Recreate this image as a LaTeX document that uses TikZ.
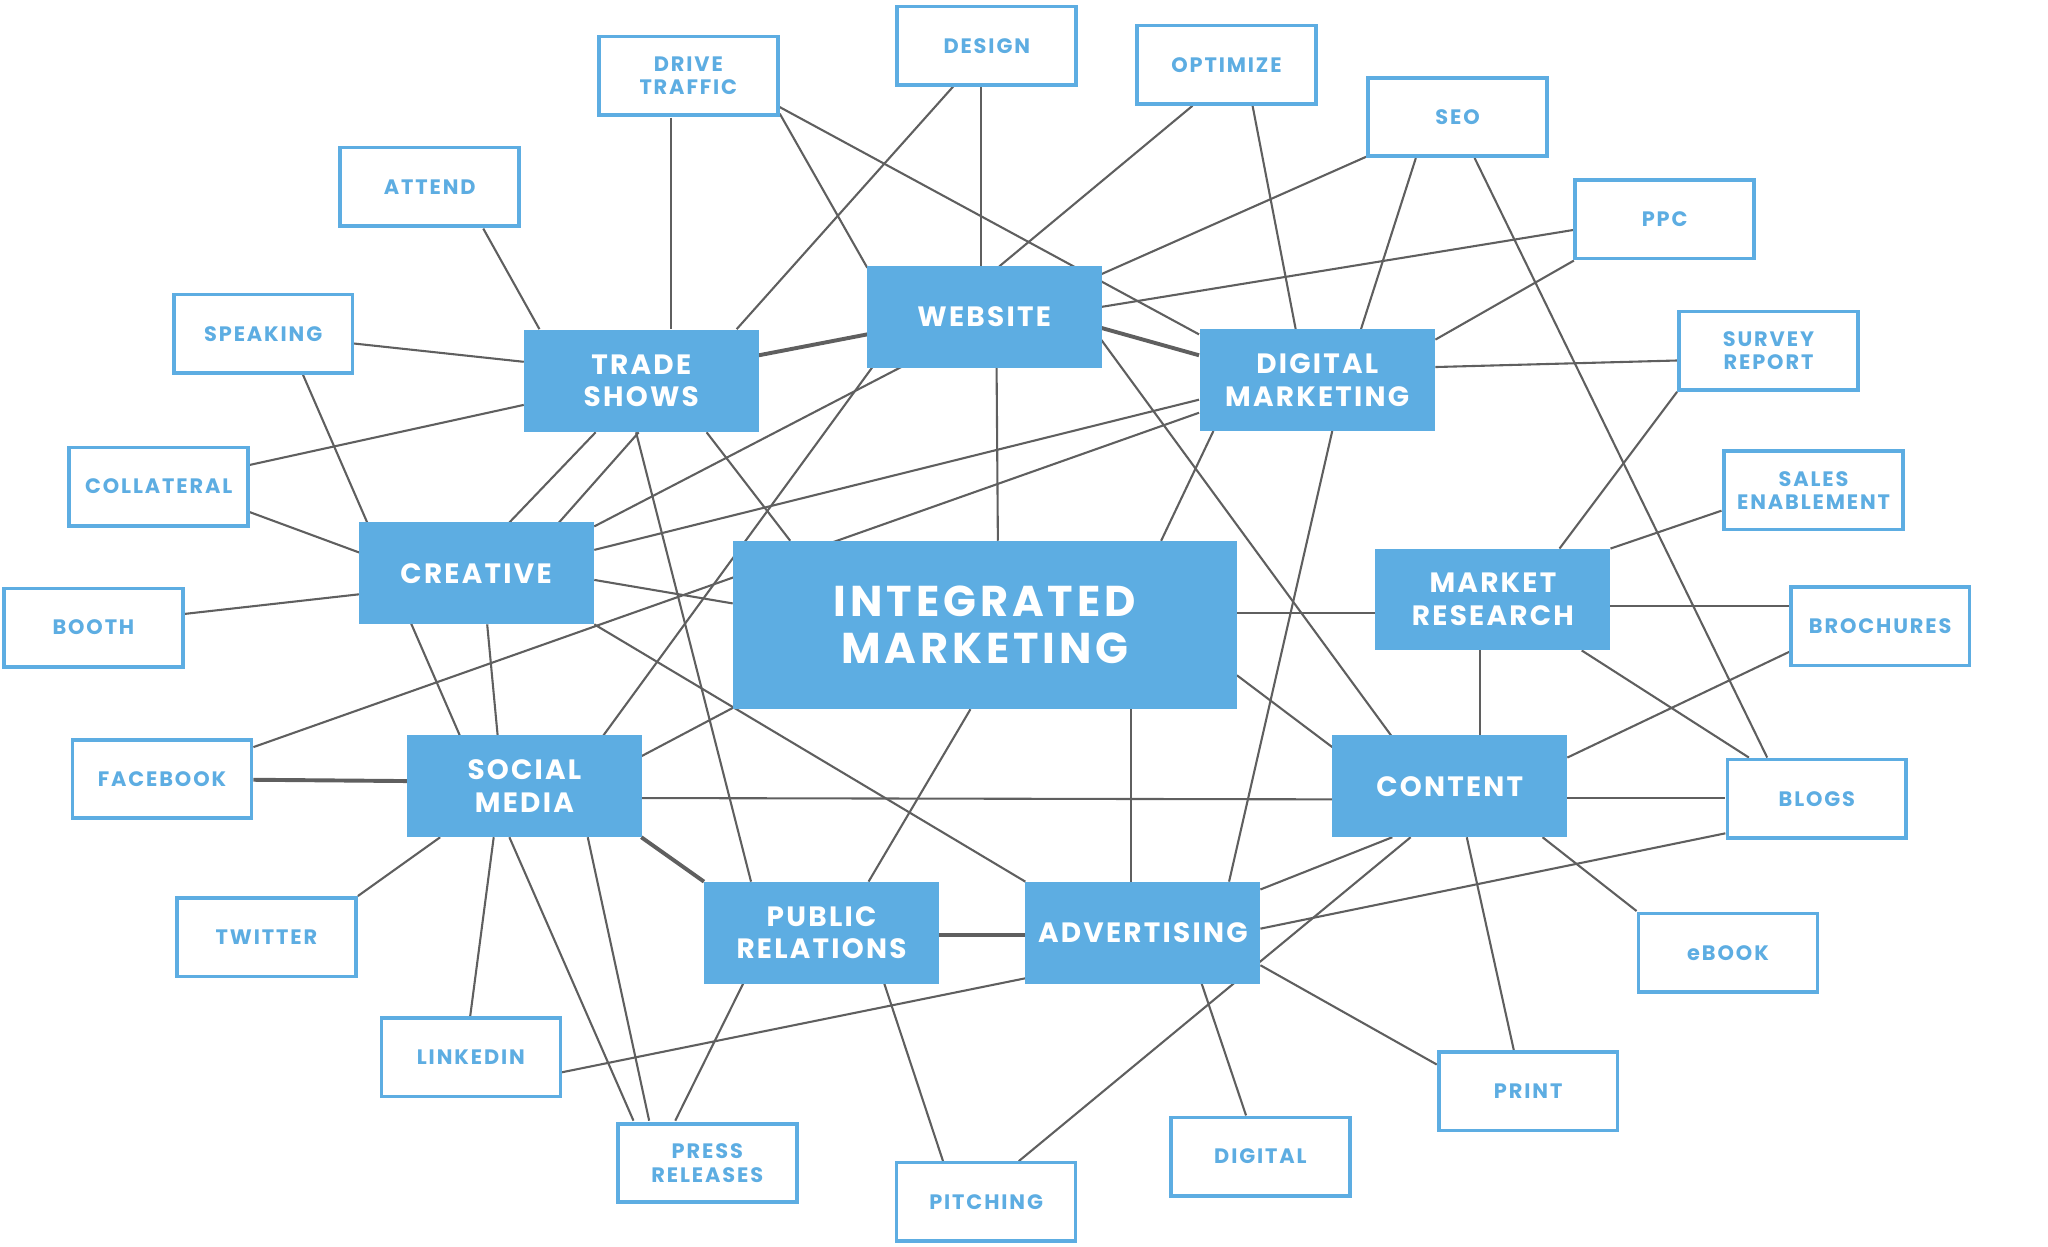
\documentclass[tikz,border=0pt]{standalone}
\usepackage{fontspec}
\usetikzlibrary{backgrounds}
\newfontfamily\popbig[LetterSpace=9]{Poppins}
\newfontfamily\pophub[LetterSpace=8]{Poppins}
\newfontfamily\popleaf[LetterSpace=9]{Poppins}
\definecolor{mainblue}{RGB}{93,173,226}
\definecolor{linegray}{RGB}{95,95,95}
\newcommand\lnk[5][]{\draw[link,#1] ([shift={(#3)}]#2.center) -- ([shift={(#5)}]#4.center);}
\tikzset{
  hub/.style={rectangle, fill=mainblue, text=white, minimum width=90pt, minimum height=39pt, inner sep=0pt, align=center, font={\pophub\bfseries\fontsize{10.7}{12.5}\selectfont}},
  bighub/.style={hub, minimum width=193pt, minimum height=64.5pt, font={\popbig\bfseries\fontsize{16.5}{18}\selectfont}},
  leaf/.style={rectangle, draw=mainblue, line width=1.4pt, fill=white, text=mainblue, minimum width=68.5pt, minimum height=30pt, inner sep=0pt, align=center, font={\popleaf\bfseries\fontsize{8}{9}\selectfont}},
  link/.style={draw=linegray, line width=0.8pt},
  thicklink/.style={line width=1.5pt}
}
\begin{document}
\begin{tikzpicture}[x=0.5pt,y=-0.5pt]
\useasboundingbox (0,0) rectangle (1568,954);
% hubs
\node[hub] (web) at (753.5,242.5) {WEBSITE};
\node[hub] (ts) at (491,291.5) {TRADE\\SHOWS};
\node[hub] (dm) at (1008.5,291) {DIGITAL\\MARKETING};
\node[hub] (cre) at (364.5,439) {CREATIVE};
\node[bighub] (im) at (754,478.5) {INTEGRATED\\MARKETING};
\node[hub] (mr) at (1143,459) {MARKET\\RESEARCH};
\node[hub] (sm) at (401.5,602) {SOCIAL\\MEDIA};
\node[hub] (con) at (1110,602) {CONTENT};
\node[hub] (pr) at (629,714) {PUBLIC\\RELATIONS};
\node[hub] (adv) at (875,714) {ADVERTISING};
% leaves
\node[leaf] (drive) at (527,58) {DRIVE\\TRAFFIC};
\node[leaf] (design) at (755.5,35) {DESIGN};
\node[leaf] (opt) at (939,49.5) {OPTIMIZE};
\node[leaf] (seo) at (1116,89.5) {SEO};
\node[leaf] (ppc) at (1274.5,168) {PPC};
\node[leaf] (survey) at (1354,268.5) {SURVEY\\REPORT};
\node[leaf] (sales) at (1388.5,375.5) {SALES\\ENABLEMENT};
\node[leaf] (broch) at (1439.5,479.5) {BROCHURES};
\node[leaf] (blogs) at (1391,611.5) {BLOGS};
\node[leaf] (ebook) at (1323,729.5) {eBOOK};
\node[leaf] (print) at (1170,835.5) {PRINT};
\node[leaf] (digital) at (965,885.5) {DIGITAL};
\node[leaf] (pitch) at (755,920) {PITCHING};
\node[leaf] (press) at (541.5,890.5) {PRESS\\RELEASES};
\node[leaf] (linked) at (360.5,809.5) {LINKEDIN};
\node[leaf] (twitter) at (204,717.5) {TWITTER};
\node[leaf] (fb) at (124,596.5) {FACEBOOK};
\node[leaf] (booth) at (71.5,480.5) {BOOTH};
\node[leaf] (coll) at (121.5,372.5) {COLLATERAL};
\node[leaf] (speak) at (201.5,255.5) {SPEAKING};
\node[leaf] (attend) at (329,143) {ATTEND};
\begin{scope}[on background layer]
\lnk{drive}{-13,32}{ts}{23,-39.5}
\lnk{drive}{70,24}{dm}{-90.5,-35}
\lnk{drive}{70,29}{web}{-89.5,-37.5}
\lnk{design}{-25.5,31}{ts}{73,-39.5}
\lnk{design}{-4.5,31}{web}{-2.5,-38.5}
\lnk{opt}{-26,31.5}{web}{11.5,-38.5}
\lnk{opt}{20,31.5}{dm}{-16.5,-39}
\lnk{seo}{-70,30.5}{web}{89.5,-32.5}
\lnk{seo}{-32,31.5}{dm}{33.5,-39}
\lnk{seo}{13,31.5}{blogs}{-38,-31.5}
\lnk{ppc}{-69.5,8}{web}{89.5,-7.5}
\lnk{ppc}{-69.5,31.5}{dm}{90.5,-31}
\lnk[thicklink]{web}{89.5,8.5}{dm}{-90.5,-19}
\lnk{web}{89.5,17.5}{con}{-45,-39}
\lnk{dm}{90.5,-10}{survey}{-70,7.5}
\lnk{dm}{-90.5,15}{cre}{90.5,-18}
\lnk{dm}{-90.5,25}{fb}{70,-24.5}
\lnk{dm}{-79.5,39}{im}{135,-64.5}
\lnk{dm}{11.5,39}{adv}{66,-39}
\lnk{im}{193,-9.5}{mr}{-90,10}
\lnk{mr}{51,-39}{survey}{-70,31.5}
\lnk{mr}{90,-39}{sales}{-70.5,15.5}
\lnk{mr}{90,5}{broch}{-69.5,-15.5}
\lnk{mr}{-10,39}{con}{23,-39}
\lnk{mr}{68,39}{blogs}{-52,-31.5}
\lnk{broch}{-69.5,19.5}{con}{90,-22}
\lnk{con}{90,9}{blogs}{-70,-0.5}
\lnk{im}{193,38.5}{con}{-90,-30}
\lnk{im}{112,64.5}{adv}{-9,-39}
\lnk{sm}{89.5,9}{con}{-90,10}
\lnk{con}{-44,39}{adv}{90,-33}
\lnk{con}{-30,39}{pitch}{25,-31}
\lnk{blogs}{-70,26.5}{adv}{90,-3}
\lnk{con}{13,39}{print}{-11,-31.5}
\lnk{con}{71,39}{ebook}{-70,-32}
\lnk{adv}{90,25}{print}{-70,-20.5}
\lnk{adv}{45,39}{digital}{-11,-31.5}
\lnk[thicklink]{pr}{90,2}{adv}{-90,2}
\lnk{linked}{69.5,11.5}{adv}{-90,35}
\lnk{pr}{-60,39}{press}{-24.5,-32.5}
\lnk{pr}{48,39}{pitch}{-33,-31}
\lnk{pr}{36,-39}{im}{-11,64.5}
\lnk{ts}{-4,39.5}{pr}{-54,-39}
\lnk[thicklink]{sm}{89.5,39}{pr}{-90,-39}
\lnk{sm}{89.5,-23}{im}{-193,63.5}
\lnk{sm}{60.5,-39}{web}{-85.5,38.5}
\lnk{cre}{90.5,-36}{web}{-63.5,38.5}
\lnk{cre}{25.5,-39}{ts}{-35,39.5}
\lnk{cre}{63.5,-39}{ts}{-2,39.5}
\lnk{ts}{50,39.5}{im}{-149,-64.5}
\lnk[thicklink]{ts}{90,-19.5}{web}{-89.5,13.5}
\lnk{speak}{69.5,7.5}{ts}{-90,-14.5}
\lnk{attend}{41,32}{ts}{-78,-39.5}
\lnk{coll}{69.5,-16.5}{ts}{-90,18.5}
\lnk{speak}{30.5,31.5}{sm}{-49.5,-39}
\lnk{coll}{69.5,19.5}{cre}{-89.5,-16}
\lnk{booth}{70,-10.5}{cre}{-89.5,16}
\lnk{cre}{90.5,5}{im}{-193,-16.5}
\lnk{cre}{90.5,39}{adv}{-90,-39}
\lnk{cre}{8.5,39}{sm}{-20.5,-39}
\lnk[thicklink]{sm}{-89.5,-4}{fb}{70,0.5}
\lnk{sm}{-64.5,39}{twitter}{70,-31.5}
\lnk{sm}{-23.5,39}{linked}{-0.5,-31.5}
\lnk{sm}{-11.5,39}{press}{-56.5,-32.5}
\lnk{sm}{48.5,39}{press}{-44.5,-32.5}
\lnk{web}{9.5,38.5}{im}{10,-64.5}
\end{scope}
\end{tikzpicture}
\end{document}
